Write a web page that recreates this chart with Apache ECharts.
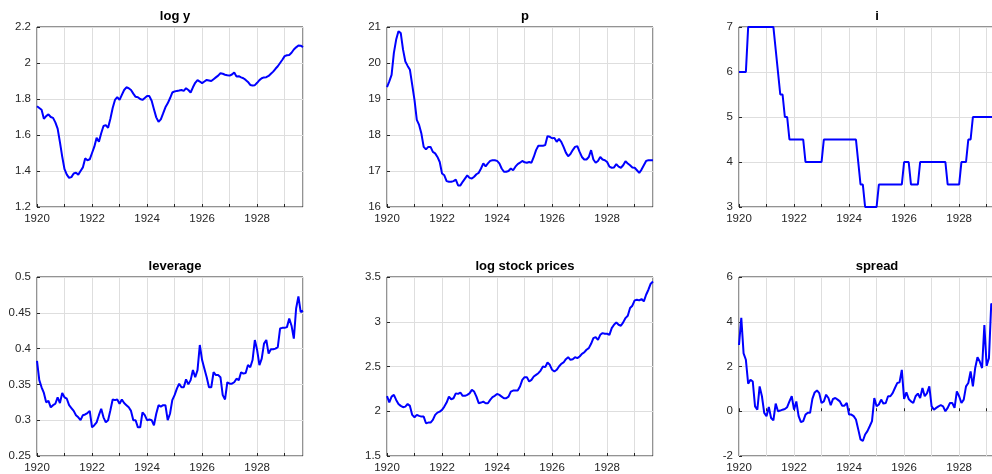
<!DOCTYPE html>
<html>
<head>
<meta charset="utf-8">
<script src="https://cdn.jsdelivr.net/npm/echarts@6/dist/echarts.min.js"></script>
<style>
  html, body { margin: 0; padding: 0; background: #fff; overflow: hidden; }
  body { width: 992px; height: 474px; }
  /* the figure is wider than the window: the right column runs past the edge */
  #chart { width: 1012px; height: 474px; }
</style>
</head>
<body>
<div id="chart"></div>
<script>
// Monthly observations, January 1920 onward
const startYear = 1920;
const lastMonthIndex = 116;

const titles = ['log y', 'p', 'i', 'leverage', 'log stock prices', 'spread'];

const logY = [
  1.76, 1.75, 1.74, 1.69, 1.705, 1.715, 1.70, 1.695, 1.67, 1.635, 1.56, 1.48,
  1.41, 1.38, 1.362, 1.366, 1.386, 1.39, 1.38, 1.40, 1.42, 1.47, 1.46, 1.465,
  1.50, 1.535, 1.585, 1.563, 1.61, 1.65, 1.655, 1.64, 1.69, 1.75, 1.795, 1.81,
  1.795, 1.823, 1.85, 1.865, 1.86, 1.85, 1.83, 1.812, 1.81, 1.80, 1.795, 1.806,
  1.817, 1.816, 1.79, 1.743, 1.698, 1.674, 1.687, 1.72, 1.754, 1.776, 1.804, 1.836,
  1.842, 1.845, 1.847, 1.85, 1.845, 1.86, 1.85, 1.836, 1.865, 1.89, 1.905, 1.897,
  1.888, 1.897, 1.906, 1.903, 1.90, 1.91, 1.92, 1.93, 1.943, 1.94, 1.935, 1.932,
  1.93, 1.936, 1.947, 1.925, 1.927, 1.92, 1.915, 1.906, 1.895, 1.878, 1.875, 1.877,
  1.89, 1.905, 1.915, 1.92, 1.921, 1.928, 1.94, 1.952, 1.968, 1.982, 2.0, 2.018,
  2.038, 2.043, 2.045, 2.057, 2.075, 2.087, 2.097, 2.096, 2.088
];

const prices = [
  19.33, 19.49, 19.67, 20.28, 20.65, 20.88, 20.83, 20.37, 20.04, 19.92, 19.81, 19.39,
  18.97, 18.42, 18.28, 18.04, 17.67, 17.6, 17.67, 17.67, 17.53, 17.49, 17.39, 17.25,
  16.93, 16.88, 16.72, 16.70, 16.70, 16.72, 16.76, 16.60, 16.60, 16.70, 16.79, 16.88,
  16.81, 16.79, 16.84, 16.91, 16.95, 17.07, 17.21, 17.13, 17.21, 17.28, 17.30, 17.30,
  17.28, 17.21, 17.07, 16.98, 16.98, 17.0, 17.07, 17.02, 17.12, 17.19, 17.23, 17.28,
  17.24, 17.23, 17.25, 17.23, 17.39, 17.58, 17.70, 17.70, 17.70, 17.72, 17.97, 17.95,
  17.91, 17.92, 17.81, 17.89, 17.81, 17.67, 17.51, 17.41, 17.47, 17.58, 17.67, 17.69,
  17.53, 17.39, 17.32, 17.32, 17.39, 17.58, 17.32, 17.23, 17.28, 17.39, 17.32, 17.30,
  17.25, 17.12, 17.09, 17.10, 17.19, 17.12, 17.09, 17.16, 17.27, 17.21, 17.16, 17.10,
  17.09, 17.02, 16.95, 17.04, 17.16, 17.28, 17.30, 17.30, 17.30
];

const rate = [
  6, 6, 6, 6, 7, 7, 7, 7, 7, 7, 7, 7,
  7, 7, 7, 7, 6.5, 6, 5.5, 5.5, 5, 5, 4.5, 4.5,
  4.5, 4.5, 4.5, 4.5, 4.5, 4, 4, 4, 4, 4, 4, 4,
  4, 4.5, 4.5, 4.5, 4.5, 4.5, 4.5, 4.5, 4.5, 4.5, 4.5, 4.5,
  4.5, 4.5, 4.5, 4.5, 4, 3.5, 3.5, 3, 3, 3, 3, 3,
  3, 3.5, 3.5, 3.5, 3.5, 3.5, 3.5, 3.5, 3.5, 3.5, 3.5, 3.5,
  4, 4, 4, 3.5, 3.5, 3.5, 3.5, 4, 4, 4, 4, 4,
  4, 4, 4, 4, 4, 4, 4, 3.5, 3.5, 3.5, 3.5, 3.5,
  3.5, 4, 4, 4, 4.5, 4.5, 5, 5, 5, 5, 5, 5,
  5, 5, 5, 5, 5, 5, 5, 5, 5
];

const leverage = [
  0.383, 0.356, 0.346, 0.338, 0.325, 0.327, 0.318, 0.321, 0.323, 0.332, 0.324, 0.338,
  0.332, 0.330, 0.321, 0.317, 0.313, 0.307, 0.304, 0.300, 0.307, 0.308, 0.310, 0.313,
  0.290, 0.293, 0.297, 0.307, 0.316, 0.304, 0.297, 0.300, 0.314, 0.329, 0.328, 0.329,
  0.323, 0.329, 0.324, 0.321, 0.318, 0.313, 0.300, 0.300, 0.290, 0.290, 0.311, 0.307,
  0.300, 0.301, 0.300, 0.293, 0.309, 0.321, 0.319, 0.321, 0.321, 0.300, 0.309, 0.328,
  0.335, 0.344, 0.351, 0.346, 0.346, 0.357, 0.350, 0.356, 0.370, 0.360, 0.370, 0.405,
  0.384, 0.372, 0.360, 0.346, 0.346, 0.367, 0.363, 0.363, 0.360, 0.335, 0.329, 0.353,
  0.351, 0.351, 0.353, 0.358, 0.356, 0.367, 0.365, 0.366, 0.377, 0.374, 0.384, 0.412,
  0.398, 0.377, 0.386, 0.407, 0.412, 0.393, 0.399, 0.399, 0.400, 0.402, 0.428, 0.429,
  0.429, 0.430, 0.442, 0.432, 0.414, 0.456, 0.473, 0.451, 0.453
];

const logStock = [
  2.17, 2.10, 2.164, 2.183, 2.127, 2.082, 2.06, 2.045, 2.052, 2.082, 2.06, 1.959,
  1.933, 1.959, 1.948, 1.94, 1.94, 1.866, 1.873, 1.873, 1.903, 1.959, 1.985, 1.996,
  2.015, 2.052, 2.097, 2.164, 2.134, 2.145, 2.20, 2.194, 2.209, 2.172, 2.172, 2.183,
  2.20, 2.239, 2.22, 2.164, 2.09, 2.097, 2.108, 2.09, 2.09, 2.127, 2.157, 2.172,
  2.194, 2.183, 2.164, 2.145, 2.145, 2.164, 2.22, 2.231, 2.231, 2.231, 2.276, 2.351,
  2.381, 2.381, 2.332, 2.351, 2.388, 2.407, 2.425, 2.455, 2.50, 2.493, 2.545, 2.519,
  2.463, 2.444, 2.463, 2.50, 2.53, 2.545, 2.582, 2.604, 2.575, 2.582, 2.604, 2.593,
  2.612, 2.642, 2.657, 2.687, 2.705, 2.754, 2.817, 2.828, 2.798, 2.854, 2.873, 2.866,
  2.866, 2.854, 2.929, 2.966, 2.993, 2.966, 2.955, 2.993, 3.041, 3.067, 3.153, 3.179,
  3.239, 3.246, 3.239, 3.254, 3.228, 3.302, 3.358, 3.425, 3.45
];

const spread = [
  2.96, 4.18, 2.59, 2.30, 1.23, 1.41, 1.33, 0.22, 0.07, 1.11, 0.67, -0.07,
  -0.22, 0.19, -0.30, -0.41, 0.34, 0.0, 0.03, 0.07, 0.10, 0.18, 0.44, 0.67,
  0.07, 0.44, -0.22, -0.49, -0.44, -0.15, -0.07, -0.07, 0.55, 0.84, 0.93, 0.81,
  0.37, 0.44, 0.74, 0.59, 0.27, 0.55, 0.59, 0.52, 0.44, 0.25, 0.25, 0.37,
  -0.15, -0.15, -0.22, -0.37, -0.81, -1.26, -1.33, -1.04, -0.89, -0.67, -0.44, 0.59,
  0.22, 0.30, 0.52, 0.34, 0.37, 0.67, 0.67, 0.81, 1.04, 1.26, 1.29, 1.85,
  0.55, 0.84, 0.55, 0.44, 0.37, 0.67, 0.79, 0.59, 1.04, 0.67, 0.81, 1.11,
  0.22, 0.07, 0.15, 0.22, 0.27, 0.22, 0.0, 0.15, 0.37, 0.37, 0.15, 0.89,
  0.67, 0.37, 0.52, 1.11, 1.26, 1.78, 1.11, 1.93, 2.41, 2.22, 1.93, 3.85,
  2.03, 2.37, 4.81, 4.67
];

// y-axis ranges and tick steps for each panel
const yMin = [1.2, 16, 3, 0.25, 1.5, -2];
const yMax = [2.2, 21, 7, 0.5, 3.5, 6];
const yStep = [0.2, 1, 1, 0.05, 0.5, 2];

const seriesValues = [logY, prices, rate, leverage, logStock, spread];

const panelLeft = [37, 387, 739];
const panelTop = [27, 277];
const panelW = 266;
const panelH = 180;

const fontFamily = '"Liberation Sans", Arial, Helvetica, sans-serif';
const tickColor = '#262626';
const gridColor = '#dedede';

function toPairs(values) {
  return values.map((v, m) => [startYear + m / 12, v]);
}

const grids = [], xAxes = [], yAxes = [], series = [], titleList = [];

for (let k = 0; k < 6; k++) {
  const col = k % 3, row = Math.floor(k / 3);
  const left = panelLeft[col], top = panelTop[row];
  grids.push({
    left: left, top: top, width: panelW, height: panelH,
    show: true, borderColor: tickColor, borderWidth: 1, backgroundColor: '#fff'
  });
  xAxes.push({
    type: 'value', gridIndex: k,
    min: startYear, max: startYear + lastMonthIndex / 12, interval: 1,
    axisLine: { show: false },
    axisTick: { show: true, inside: true, length: 3, lineStyle: { color: tickColor } },
    axisLabel: {
      margin: 6, fontSize: 11.5, color: tickColor, fontFamily: fontFamily,
      showMaxLabel: false,
      formatter: function (v) {
        const r = Math.round(v);
        return (Math.abs(v - r) < 1e-6 && r % 2 === 0) ? String(r) : '';
      }
    },
    splitLine: { show: true, lineStyle: { color: gridColor, width: 1 } }
  });
  yAxes.push({
    type: 'value', gridIndex: k,
    min: yMin[k], max: yMax[k], interval: yStep[k],
    axisLine: { show: false },
    axisTick: { show: true, inside: true, length: 3, lineStyle: { color: tickColor } },
    axisLabel: { margin: 6, fontSize: 11.5, color: tickColor, fontFamily: fontFamily },
    splitLine: { show: true, lineStyle: { color: gridColor, width: 1 } }
  });
  series.push({
    type: 'line', xAxisIndex: k, yAxisIndex: k,
    data: toPairs(seriesValues[k]),
    showSymbol: false, symbol: 'none',
    lineStyle: { color: '#0000ff', width: 2 },
    itemStyle: { color: '#0000ff' },
    animation: false
  });
  titleList.push({
    text: titles[k],
    left: left + panelW / 2, top: top - 22,
    textAlign: 'center',
    textStyle: { fontSize: 13, fontWeight: 'bold', color: '#000', fontFamily: fontFamily }
  });
}

const chart = echarts.init(document.getElementById('chart'));
chart.setOption({
  backgroundColor: '#fff',
  animation: false,
  title: titleList,
  grid: grids,
  xAxis: xAxes,
  yAxis: yAxes,
  series: series
});
</script>
</body>
</html>
